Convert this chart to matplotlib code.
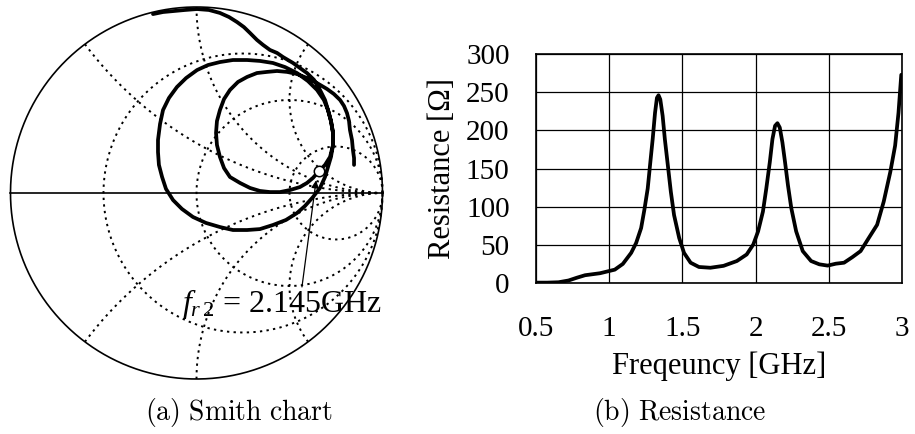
import numpy as np
import matplotlib.pyplot as plt

plt.rcParams['mathtext.fontset'] = 'custom'
plt.rcParams['mathtext.rm'] = 'Liberation Serif'
plt.rcParams['mathtext.it'] = 'Liberation Serif:italic'

gamma_re = [-0.234, -0.180, -0.126, -0.062, 0.003, 0.067, 0.126, 0.175, 0.218, 0.255,
            0.288, 0.325, 0.358, 0.395, 0.433, 0.465, 0.519, 0.556, 0.594, 0.632,
            0.664, 0.691, 0.707, 0.723, 0.734, 0.734, 0.723, 0.707, 0.691, 0.664,
            0.626, 0.583, 0.540, 0.481, 0.411, 0.341, 0.272, 0.196, 0.126, 0.051,
            -0.019, -0.078, -0.126, -0.164, -0.185, -0.202, -0.207, -0.207, -0.196, -0.180,
            -0.148, -0.105, -0.056, 0.003, 0.062, 0.126, 0.196, 0.272, 0.341, 0.411,
            0.476, 0.540, 0.599, 0.648, 0.685, 0.707, 0.723, 0.734, 0.734, 0.718,
            0.691, 0.659,
            0.626, 0.594, 0.556, 0.503, 0.449, 0.395, 0.341, 0.288, 0.234, 0.180,
            0.148, 0.126, 0.110, 0.105, 0.110, 0.126, 0.148, 0.180, 0.223, 0.272,
            0.325, 0.379, 0.433, 0.487, 0.540, 0.594, 0.648,
            0.702, 0.739, 0.772, 0.793, 0.809, 0.820, 0.825, 0.836, 0.841, 0.847, 0.847]
gamma_im = [0.962, 0.973, 0.978, 0.984, 0.989, 0.984, 0.968, 0.946, 0.919, 0.892,
            0.860, 0.823, 0.796, 0.769, 0.753, 0.731, 0.699, 0.672, 0.645, 0.608,
            0.554, 0.500, 0.446, 0.387, 0.323, 0.258, 0.194, 0.140, 0.086, 0.027,
            -0.022, -0.070, -0.108, -0.145, -0.172, -0.194, -0.199, -0.199, -0.183, -0.161,
            -0.129, -0.086, -0.038, 0.022, 0.086, 0.151, 0.220, 0.285, 0.371, 0.446,
            0.511, 0.570, 0.618, 0.661, 0.688, 0.704, 0.715, 0.715, 0.710, 0.699,
            0.677, 0.645, 0.602, 0.554, 0.500, 0.446, 0.387, 0.323, 0.258, 0.194,
            0.151, 0.118,
            0.081, 0.054, 0.032, 0.016, 0.005, 0.005, 0.011, 0.027, 0.054, 0.086,
            0.134, 0.194, 0.258, 0.323, 0.387, 0.446, 0.505, 0.554, 0.597, 0.624,
            0.645, 0.651, 0.656, 0.651, 0.640, 0.618, 0.591,
            0.559, 0.532, 0.500, 0.468, 0.430, 0.387, 0.339, 0.285, 0.231, 0.188, 0.151]

# second resonance marker
fr2_re = 0.659
fr2_im = 0.118
fr2_label = r'$f_{r\,\mathrm{2}}$ = 2.145GHz'

# Smith chart grid values
r_circles = [1 / 3, 1, 3]
x_arcs = [0.5, 1, 2]

# Resistance vs frequency
freq_ghz = [0.5, 0.577, 0.654, 0.722, 0.78, 0.835, 0.937, 1.038, 1.093, 1.150,
            1.184, 1.218, 1.240, 1.263, 1.281, 1.297, 1.313, 1.326, 1.337, 1.349,
            1.365, 1.380, 1.398, 1.421, 1.443, 1.478, 1.511, 1.556, 1.613, 1.691,
            1.781, 1.872, 1.939, 1.984, 2.017, 2.050, 2.073, 2.097, 2.115, 2.133,
            2.149, 2.165, 2.183, 2.201, 2.221, 2.244, 2.277, 2.322, 2.379, 2.435,
            2.492, 2.548, 2.604, 2.661, 2.717, 2.773, 2.830, 2.875, 2.920, 2.953,
            2.976, 2.995]
resistance = [0.5, 0.5, 1, 3.3, 7, 10.2, 12.8, 17.5, 25, 39.5,
              52.5, 72, 95.7, 123.8, 158.4, 188.6, 223, 242.6, 246, 240.5,
              219, 188.6, 158.4, 119.5, 89, 59, 39.5, 26.6, 21, 20,
              22.5, 28.8, 37.4, 50.4, 67.7, 93.6, 123.8, 158.4, 188.6, 206,
              209.4, 203.7, 184.3, 158.4, 128, 97.9, 67.7, 41.8, 28.8, 24.5,
              22.8, 25.3, 26.6, 33.9, 41.8, 59, 76.3, 106.6, 145.4, 180,
              223, 272.8]

x_ticks = [0.5, 1, 1.5, 2, 2.5, 3]
x_ticklabels = ['0.5', '1', '1.5', '2', '2.5', '3']
y_ticks = [0, 50, 100, 150, 200, 250, 300]

fig = plt.figure(figsize=(9.15, 4.34), dpi=100)

# (a) Smith chart
ax1 = fig.add_axes([0.0013, 0.1053, 0.4269, 0.9])
ax1.set_xlim(-1.05, 1.05)
ax1.set_ylim(-1.05, 1.05)
ax1.axis('off')

dot = (0, (1.2, 2.2))
t = np.linspace(0, 2 * np.pi, 500)
ax1.plot(np.cos(t), np.sin(t), color='k', lw=1.2)
ax1.plot([-1, 1], [0, 0], color='k', lw=1.2)
for r in r_circles:
    c = r / (1 + r)
    rad = 1 / (1 + r)
    ax1.plot(c + rad * np.cos(t), rad * np.sin(t), color='k', lw=1.4, ls=dot)
rr = np.tan(np.linspace(0, np.pi / 2 - 1e-3, 600))
for xv in x_arcs:
    for s in (1, -1):
        z = rr + 1j * s * xv
        g = (z - 1) / (z + 1)
        ax1.plot(g.real, g.imag, color='k', lw=1.4, ls=dot)

ax1.plot(gamma_re, gamma_im, color='k', lw=2.7, solid_capstyle='round',
         solid_joinstyle='round', zorder=5)
ax1.plot([fr2_re], [fr2_im], 'o', ms=7.5, mfc='white', mec='k', mew=1.1, zorder=6)
ax1.annotate('', xy=(0.643, 0.068), xytext=(0.567, -0.505),
             arrowprops=dict(arrowstyle='-|>', color='k', lw=0.9,
                             mutation_scale=11, shrinkA=0, shrinkB=0), zorder=6)
ax1.text(-0.078, -0.64, fr2_label, fontsize=23, family='Liberation Serif',
         math_fontfamily='custom', ha='left', va='baseline', clip_on=False, zorder=7)

# (b) Resistance
ax2 = fig.add_axes([0.5858, 0.3479, 0.4, 0.5276])
ax2.plot(freq_ghz, resistance, color='k', lw=2.7, solid_joinstyle='round',
         solid_capstyle='round', zorder=3)
ax2.set_xlim(0.5, 3)
ax2.set_ylim(0, 300)
ax2.set_xticks(x_ticks)
ax2.set_xticklabels(x_ticklabels)
ax2.set_yticks(y_ticks)
ax2.grid(True, color='k', lw=0.9)
ax2.set_axisbelow(True)
ax2.tick_params(length=0, labelsize=21)
ax2.tick_params(axis='x', pad=24)
ax2.tick_params(axis='y', pad=19)
for lab in ax2.get_xticklabels() + ax2.get_yticklabels():
    lab.set_family('Liberation Serif')
for sp in ax2.spines.values():
    sp.set_linewidth(1.2)
ax2.set_xlabel('Freqeuncy [GHz]', fontsize=22, family='Liberation Serif')
ax2.set_ylabel('Resistance [Ω]', fontsize=22, family='Liberation Serif')
ax2.xaxis.set_label_coords(0.5, -0.30)
ax2.yaxis.set_label_coords(-0.215, 0.5)

# captions
fig.text(0.261, 0.05, r'$\mathrm{(a)\ Smith\ chart}$', fontsize=20,
         math_fontfamily='cm', ha='center', va='center')
fig.text(0.743, 0.05, r'$\mathrm{(b)\ Resistance}$', fontsize=20,
         math_fontfamily='cm', ha='center', va='center')

fig.savefig('out.png', dpi=100)
